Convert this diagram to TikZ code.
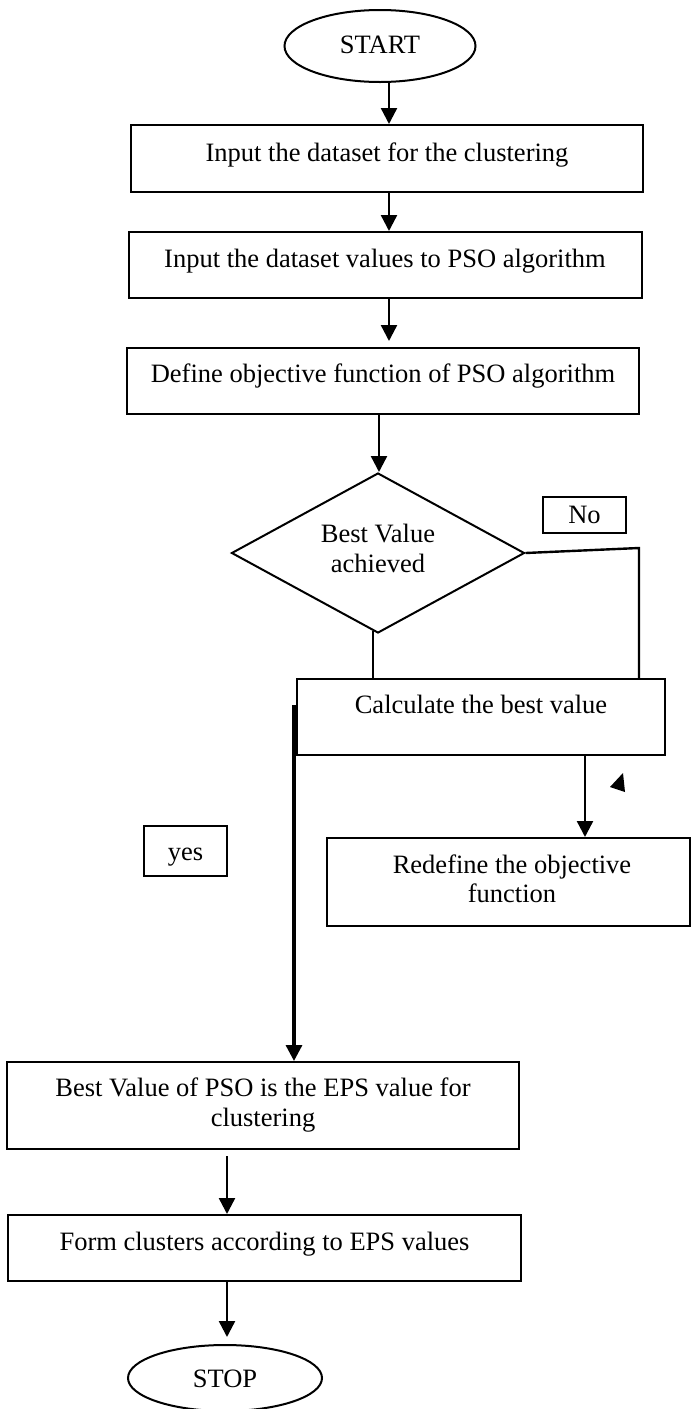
\documentclass[tikz,border=0pt]{standalone}
\usepackage{fontspec}
\setmainfont{Liberation Serif}
\usetikzlibrary{shapes.geometric, arrows.meta, fit, calc}

\begin{document}
\begin{tikzpicture}[x=0.5pt, y=-0.5pt,
  box/.style={draw, rectangle, line width=1pt, inner sep=0pt},
  term/.style={draw, ellipse, line width=1pt, inner sep=0pt},
  txt/.style={font=\fontsize{13.25}{14.75}\selectfont, inner sep=0pt, align=center},
  flow/.style={line width=1.2pt, -{Triangle[length=8pt,width=8pt]}},
  link/.style={line width=1.2pt}]
\useasboundingbox (0,0) rectangle (691,1409);

% columns used by the connectors
\coordinate (ax1) at (389,0);
\coordinate (ax2) at (379,0);
\coordinate (ax5) at (585,0);
\coordinate (ax7) at (227,0);
\coordinate (nocorner) at (639,548);
\coordinate (yesfrom) at (294,705);

% terminals
\node[term, minimum width=95.5pt, minimum height=36pt] (start) at (380,46) {};
\node[txt, anchor=base] (tstart) at (380,53) {START};

\node[term, minimum width=97pt, minimum height=33pt] (stop) at (225,1378) {};
\node[txt, anchor=base] (tstop) at (225,1387) {STOP};

% process boxes
\node[box, fit={(131,125) (643,192)}] (b1) {};
\node[txt, anchor=base] (t1) at (387,161) {Input the dataset for the clustering};

\node[box, fit={(129,232) (642,298)}] (b2) {};
\node[txt, anchor=base] (t2) at (385,267) {Input the dataset values to PSO algorithm};

\node[box, fit={(127,348) (639,414)}] (b3) {};
\node[txt, anchor=base] (t3) at (383,382) {Define objective function of PSO algorithm};

% decision
\node[draw, diamond, line width=1pt, inner sep=0pt,
      minimum width=146.5pt, minimum height=80pt] (dec) at (378,553) {};
\node[txt, anchor=base] (tdec1) at (378,542) {Best Value};
\node[txt, anchor=base] (tdec2) at (378,572) {achieved};

\node[box, fit={(543,497) (626,533)}] (nobox) {};
\node[txt, anchor=base] (tno) at (584.5,523) {No};

\node[box, fit={(297,679) (665,755)}] (calc) {};
\node[txt, anchor=base] (tcalc) at (481,713) {Calculate the best value};

\node[box, fit={(144,826) (227,876)}] (yesbox) {};
\node[txt, anchor=base] (tyes) at (185.5,860) {yes};

\node[box, fit={(327,838) (690,926)}] (redef) {};
\node[txt, anchor=base] (tr1) at (512,873) {Redefine the objective};
\node[txt, anchor=base] (tr2) at (512,902) {function};

\node[box, fit={(7,1062) (519,1149)}] (bv) {};
\node[txt, anchor=base] (tbv1) at (263,1096) {Best Value of PSO is the EPS value for};
\node[txt, anchor=base] (tbv2) at (263,1126) {clustering};

\node[box, fit={(8,1215) (521,1281)}] (form) {};
\node[txt, anchor=base] (tform) at (264.5,1250) {Form clusters according to EPS values};

% connectors
\draw[flow] (start.south -| ax1) -- (b1.north -| ax1);
\draw[flow] (b1.south -| ax1) -- (b2.north -| ax1);
\draw[flow] (b2.south -| ax1) -- ($(b3.north -| ax1)+(0,-6)$);
\draw[flow] (b3.south -| ax2) -- (dec.north -| ax2);
\draw[link] ($(dec.south)+(-5,-3)$) -- (calc.north -| 373,0);
\draw[link] (dec.east) -- (nocorner) -- (calc.north -| nocorner);
\draw[flow] (calc.south -| ax5) -- (redef.north -| ax5);
\draw[flow, line width=1.6pt] (yesfrom) -- (bv.north -| yesfrom);
\draw[flow] ($(bv.south -| ax7)+(0,6)$) -- (form.north -| ax7);
\draw[flow] (form.south -| ax7) -- ($(stop.north -| ax7)+(0,-7)$);

% loose arrowhead beside the redefine connector
\fill (610,787) -- (623,773) -- (625,792) -- cycle;
\end{tikzpicture}
\end{document}
